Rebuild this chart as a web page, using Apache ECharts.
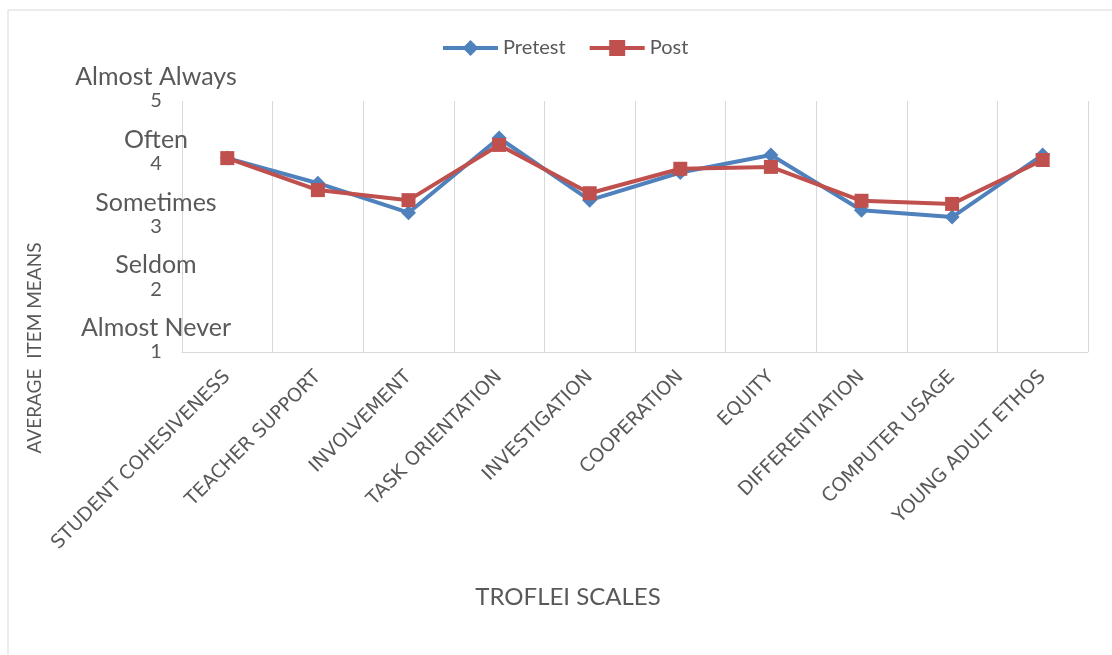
<!DOCTYPE html>
<html>
<head>
<meta charset="utf-8">
<script src="https://cdn.jsdelivr.net/npm/echarts@6/dist/echarts.min.js"></script>
<style>
  html, body { margin: 0; padding: 0; background: #fff; }
  #main { width: 1112px; height: 655px; }
</style>
</head>
<body>
<div id="main"></div>
<script>
// 数据
var categories = ['STUDENT COHESIVENESS', 'TEACHER SUPPORT', 'INVOLVEMENT', 'TASK ORIENTATION',
  'INVESTIGATION', 'COOPERATION', 'EQUITY', 'DIFFERENTIATION', 'COMPUTER USAGE', 'YOUNG ADULT ETHOS'];
var pretest = [4.09, 3.69, 3.22, 4.41, 3.42, 3.86, 4.14, 3.26, 3.15, 4.14];
var post = [4.09, 3.58, 3.42, 4.30, 3.53, 3.92, 3.95, 3.41, 3.36, 4.06];
var yTicks = [1, 2, 3, 4, 5];
var yWords = ['Almost Never', 'Seldom', 'Sometimes', 'Often', 'Almost Always'];

var textColor = '#595959';
var font = 'Lato';

var myChart = echarts.init(document.getElementById('main'));

var option = {
  backgroundColor: '#fff',
  animation: false,
  textStyle: { fontFamily: font, color: textColor },
  graphic: [
    {
      type: 'rect',
      shape: { x: 8, y: 10, width: 1120, height: 660 },
      style: { fill: 'none', stroke: '#d9d9d9', lineWidth: 1 },
      silent: true
    },
    {
      type: 'text',
      x: 35, y: 348,
      rotation: Math.PI / 2,
      style: {
        text: 'AVERAGE  ITEM MEANS',
        font: '19px Lato',
        fill: textColor,
        textAlign: 'center',
        textVerticalAlign: 'middle'
      }
    },
    {
      type: 'text',
      x: 568, y: 597,
      style: {
        text: 'TROFLEI SCALES',
        font: '24px Lato',
        fill: textColor,
        textAlign: 'center',
        textVerticalAlign: 'middle'
      }
    }
  ],
  legend: {
    top: 33,
    left: 436,
    itemWidth: 55,
    itemHeight: 20,
    itemGap: 22,
    lineStyle: { width: 4 },
    textStyle: { fontSize: 20, color: textColor, fontFamily: font },
    data: ['Pretest', 'Post']
  },
  grid: {
    left: 182,
    right: 24,
    top: 101,
    bottom: 303,
    containLabel: false
  },
  xAxis: {
    type: 'category',
    data: categories,
    boundaryGap: true,
    axisLine: { show: true, lineStyle: { color: '#d9d9d9', width: 1 } },
    axisTick: { show: false },
    splitLine: { show: true, interval: 0, lineStyle: { color: '#d9d9d9', width: 1 } },
    axisLabel: {
      interval: 0,
      rotate: 45,
      margin: 22,
      fontSize: 19,
      fontFamily: 'DejaVu Sans',
      color: textColor
    }
  },
  yAxis: {
    type: 'value',
    min: 1,
    max: 5,
    interval: 1,
    axisLine: { show: false },
    axisTick: { show: false },
    splitLine: { show: false },
    axisLabel: {
      margin: 26,
      align: 'center',
      padding: [0, 0, 24, 0],
      formatter: function (v) {
        return '{w|' + yWords[yTicks.indexOf(v)] + '}\n{n|' + v + '}';
      },
      rich: {
        w: { fontSize: 25, lineHeight: 24, color: textColor, fontFamily: font, align: 'center' },
        n: { fontSize: 20, lineHeight: 24, color: textColor, fontFamily: font, align: 'center' }
      }
    }
  },
  series: [
    {
      name: 'Pretest',
      type: 'line',
      data: pretest,
      symbol: 'diamond',
      symbolSize: 15,
      itemStyle: { color: '#4F81BD' },
      lineStyle: { color: '#4F81BD', width: 4 }
    },
    {
      name: 'Post',
      type: 'line',
      data: post,
      symbol: 'rect',
      symbolSize: 14,
      itemStyle: { color: '#C0504D' },
      lineStyle: { color: '#C0504D', width: 4 }
    }
  ]
};

myChart.setOption(option);
</script>
</body>
</html>
